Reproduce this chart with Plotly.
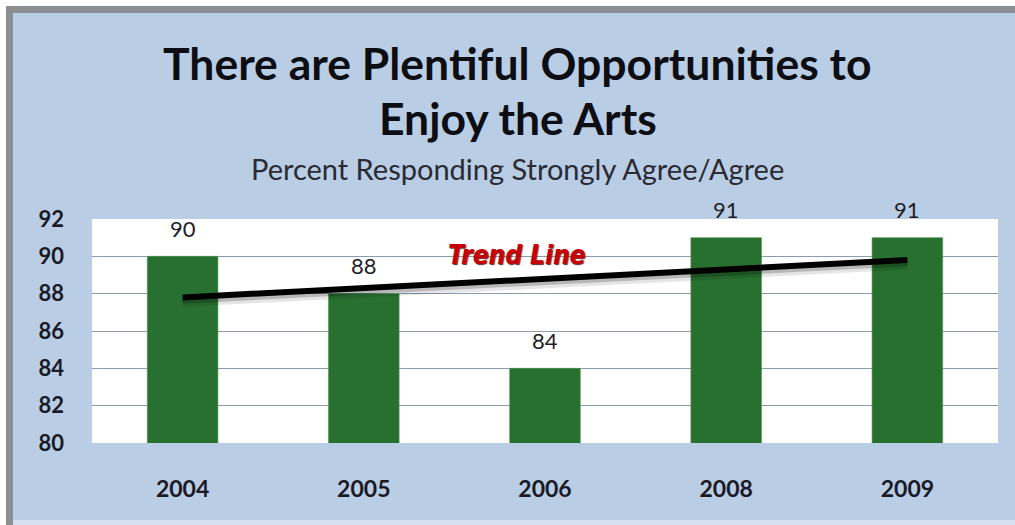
import numpy as np
import plotly.graph_objects as go

# Survey results by year
years = ["2004", "2005", "2006", "2008", "2009"]
pct_agree = [90, 88, 84, 91, 91]
y_ticks = [80, 82, 84, 86, 88, 90, 92]

title_line1 = "There are Plentiful Opportunities to"
title_line2 = "Enjoy the Arts"
subtitle = "Percent Responding Strongly Agree/Agree"
trend_label = "Trend Line"

W, H = 1015, 525
M_L, M_R, M_T, M_B = 92, 17, 219, 82
PW, PH = W - M_L - M_R, H - M_T - M_B

FONT = "Lato, Open Sans, sans-serif"


def px(x):
    return (x - M_L) / PW


def py(y):
    return (H - M_B - y) / PH


# least-squares trend over the category index
idx = np.arange(len(years))
slope, intercept = np.polyfit(idx, pct_agree, 1)
trend = slope * idx + intercept
trend_ends_x = [years[0], years[-1]]
trend_ends_y = [trend[0], trend[-1]]

fig = go.Figure()

fig.add_trace(go.Bar(
    x=years, y=pct_agree,
    marker=dict(color="#28702F", line=dict(color="#4C9A52", width=0.6)),
    cliponaxis=False,
    hoverinfo="skip",
))

# soft shadow under the trend line
for off, w, col in [(0.24, 10, "rgba(0,0,0,0.10)"), (0.15, 7, "rgba(0,0,0,0.20)")]:
    fig.add_trace(go.Scatter(
        x=trend_ends_x, y=[v - off for v in trend_ends_y], mode="lines",
        line=dict(color=col, width=w), hoverinfo="skip", showlegend=False,
    ))

fig.add_trace(go.Scatter(
    x=trend_ends_x, y=trend_ends_y, mode="lines",
    line=dict(color="#000000", width=6), hoverinfo="skip", showlegend=False,
))

shapes = [
    # outer white page, gray frame, blue panel, white plot area
    dict(type="rect", xref="paper", yref="paper", x0=px(0), x1=px(W), y0=py(H), y1=py(0),
         fillcolor="#FFFFFF", line=dict(width=0), layer="below"),
    dict(type="rect", xref="paper", yref="paper", x0=px(6), x1=px(W), y0=py(H), y1=py(6),
         fillcolor="#8C8F91", line=dict(width=0), layer="below"),
    dict(type="rect", xref="paper", yref="paper", x0=px(13), x1=px(W), y0=py(H), y1=py(13),
         fillcolor="#B9CDE5", line=dict(width=0), layer="below"),
    dict(type="rect", xref="paper", yref="paper", x0=px(13), x1=px(W), y0=py(H), y1=py(520),
         fillcolor="#D5E1EF", line=dict(width=0), layer="below"),
    dict(type="rect", xref="paper", yref="paper", x0=0, x1=1, y0=0, y1=1,
         fillcolor="#FFFFFF", line=dict(width=0), layer="below"),
]

annotations = [
    dict(text=title_line1, x=px(517), y=py(62), xref="paper", yref="paper",
         showarrow=False, xanchor="center", yanchor="middle",
         font=dict(family=FONT, size=44.5, color="#0D0D14", weight="bold")),
    dict(text=title_line2, x=px(518), y=py(118), xref="paper", yref="paper",
         showarrow=False, xanchor="center", yanchor="middle",
         font=dict(family=FONT, size=44.5, color="#0D0D14", weight="bold")),
    dict(text=subtitle, x=px(517), y=py(168), xref="paper", yref="paper",
         showarrow=False, xanchor="center", yanchor="middle",
         font=dict(family=FONT, size=29, color="#2A2A33")),
    dict(text=trend_label, x=px(517), y=py(255), xref="paper", yref="paper",
         showarrow=False, xanchor="center", yanchor="middle",
         font=dict(family="Liberation Sans Narrow, DejaVu Sans Condensed, Arial Narrow, sans-serif",
                   size=26, color="#C8000A", weight="bold", style="italic",
                   shadow="1px 1px 1px rgba(70,0,0,0.85)")),
]

# value labels above each bar (category axis positions are the indices)
for i, v in enumerate(pct_agree):
    annotations.append(dict(
        text=str(v), x=i, y=v, xref="x", yref="y", showarrow=False,
        xanchor="center", yanchor="middle", yshift=28,
        font=dict(family=FONT, size=22, color="#1E1E28"),
    ))

fig.update_layout(
    width=W, height=H,
    margin=dict(l=M_L, r=M_R, t=M_T, b=M_B),
    paper_bgcolor="#B9CDE5",
    plot_bgcolor="rgba(0,0,0,0)",
    showlegend=False,
    bargap=0.61,
    shapes=shapes,
    annotations=annotations,
    xaxis=dict(
        type="category", range=[-0.5, len(years) - 0.5],
        showgrid=False, zeroline=False,
        showline=False, ticks="", ticklabelstandoff=30,
        tickfont=dict(family=FONT, size=23, color="#1A1A26", weight="bold"),
    ),
    yaxis=dict(
        range=[80, 92], tickvals=y_ticks, ticktext=[str(v) for v in y_ticks],
        showgrid=True, gridcolor="#8A9DB0", gridwidth=1, zeroline=False,
        showline=False, ticks="", ticklabelstandoff=27,
        tickfont=dict(family=FONT, size=22, color="#1A1A26", weight="bold"),
    ),
)

fig.write_html("out.html")
